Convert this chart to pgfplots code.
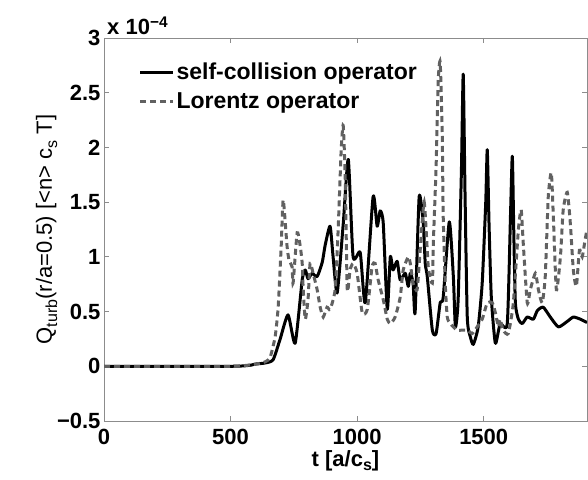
\documentclass[border=0pt]{standalone}
\usepackage{fontspec}
\setmainfont{Liberation Sans}
\usepackage{pgfplots}
\pgfplotsset{compat=1.18}
\newcommand{\sub}[1]{\raisebox{-0.45ex}{\fontsize{16}{16}\selectfont #1}}
\newcommand{\subx}[1]{\raisebox{-0.35ex}{\fontsize{16}{16}\selectfont #1}}
\begin{document}
\begin{tikzpicture}[font=\fontsize{22}{26}\selectfont]
\begin{axis}[
 at={(0,0)}, anchor=south west,
 scale only axis, width=483pt, height=383pt,
 xmin=0, xmax=1908, ymin=-0.5, ymax=3,
 xtick={0,500,1000,1500},
 xticklabels={0,500,1000,1500},
 ytick={-0.5,0,0.5,1,1.5,2,2.5,3},
 yticklabels={−0.5,0,0.5,1,1.5,2,2.5,3},
 tick label style={font=\fontsize{22}{26}\selectfont\bfseries},
 xticklabel style={inner sep=1pt, yshift=-6.8pt},
 axis line style={draw=black!45, line width=0.8pt},
 tick style={draw=black!45, line width=0.8pt},
 major tick length=5pt,
 tick align=inside,
 xlabel={\bfseries t [a/c\subx{s}]},
 xlabel style={at={(axis description cs:0.5,0)}, anchor=north, inner sep=0pt, yshift=-29pt},
 ylabel={Q\sub{turb}(r/a=0.5) [<n> c\sub{s} T]},
 ylabel style={yshift=-7pt},
 legend style={draw=none, fill=none, at={(axis description cs:0.065,0.945)}, anchor=north west,
   font=\fontsize{23}{27}\selectfont\bfseries, row sep=7pt},
 legend image code/.code={\draw[#1] (0pt,0pt) -- (33pt,0pt);},
 legend cell align=left,
]
\addplot[black, line width=3pt, line join=round, smooth, tension=0.35] coordinates {
(0,0) (500,0) (580,0.01) (597,0.02) (636,0.03) (668,0.06) (696,0.25) (727,0.47) (755,0.21)
(783,0.79) (795,0.88) (806,0.80) (822,0.85) (842,0.82) (862,0.95) (874,1.11) (893,1.28)
(905,1.0) (921,0.67) (945,1.3) (965,1.89) (984,1.0) (1012,1.04) (1032,0.58) (1063,1.55)
(1079,1.28) (1091,1.42) (1103,1.31) (1119,0.52) (1131,1.0) (1142,0.88) (1158,0.96)
(1170,0.79) (1190,0.85) (1202,0.73) (1210,0.85) (1221,0.76) (1229,0.49) (1245,1.55)
(1261,1.31) (1269,0.94) (1277,0.82) (1297,0.33) (1312,0.30) (1328,0.58) (1340,0.63)
(1364,1.32) (1380,0.82) (1388,0.36) (1399,0.61) (1412,1.8) (1419,2.67) (1426,1.6) (1435,0.45) (1447,0.27)
(1459,0.20) (1478,0.36) (1494,0.76) (1508,1.5) (1514,1.98) (1521,1.3) (1530,0.63) (1546,0.21) (1565,0.39)
(1593,0.39) (1606,1.4) (1613,1.92) (1619,1.2) (1625,0.58) (1637,0.43) (1652,0.39) (1672,0.45)
(1696,0.43) (1712,0.51) (1735,0.54) (1763,0.45) (1795,0.36) (1830,0.41) (1854,0.45)
(1882,0.43) (1908,0.40)
};
\addlegendentry{self-collision operator}
\addplot[black!62, line width=3pt, dash pattern=on 6pt off 4pt, smooth, tension=0.35] coordinates {
(0,0) (500,0) (600,0.02) (636,0.04) (656,0.08) (676,0.27) (688,0.54) (700,1.1) (708,1.52)
(723,1.1) (731,0.97) (743,0.91) (747,0.76) (763,1.22) (775,1.1) (783,0.94) (787,0.70)
(795,0.43) (806,0.61) (814,0.94) (826,0.85) (842,0.70) (854,0.54) (866,0.45) (881,0.54)
(893,0.52) (913,0.70) (925,1.25) (937,1.98) (945,2.2) (953,1.71) (961,0.70) (972,0.88)
(984,0.94) (1000,0.85) (1020,0.49) (1040,0.52) (1059,0.91) (1071,0.94) (1083,0.79)
(1103,0.61) (1119,0.43) (1131,0.39) (1150,0.45) (1170,0.63) (1182,0.88) (1202,1.0)
(1210,0.94) (1221,0.76) (1237,0.70) (1249,1.06) (1265,1.5) (1281,0.91) (1297,0.76)
(1301,1.13) (1312,1.83) (1320,2.6) (1328,2.78) (1336,2.14) (1340,1.37) (1348,0.76)
(1356,0.45) (1368,0.39) (1380,0.36) (1395,0.33) (1415,0.33) (1435,0.33) (1455,0.30)
(1474,0.36) (1494,0.43) (1514,0.58) (1534,0.58) (1546,0.49) (1558,0.36) (1565,0.43)
(1577,0.33) (1597,0.30) (1617,0.58) (1637,1.25) (1648,1.43) (1656,1.13) (1672,0.58)
(1684,0.70) (1704,0.85) (1716,0.70) (1731,0.58) (1743,0.82) (1755,1.55) (1767,1.77)
(1775,1.37) (1787,0.70) (1803,1.0) (1814,1.43) (1830,1.59) (1842,1.31) (1854,0.88)
(1866,0.73) (1878,1.06) (1889,1.0) (1900,1.15) (1908,1.25)
};
\addlegendentry{Lorentz operator}
\end{axis}
\node[anchor=south west, inner sep=0pt, font=\fontsize{22}{26}\selectfont\bfseries] at (3pt,386pt) {x 10\textsuperscript{−4}};
\pgfresetboundingbox
\useasboundingbox (-104pt,-58pt) rectangle (484pt,421pt);
\end{tikzpicture}
\end{document}
